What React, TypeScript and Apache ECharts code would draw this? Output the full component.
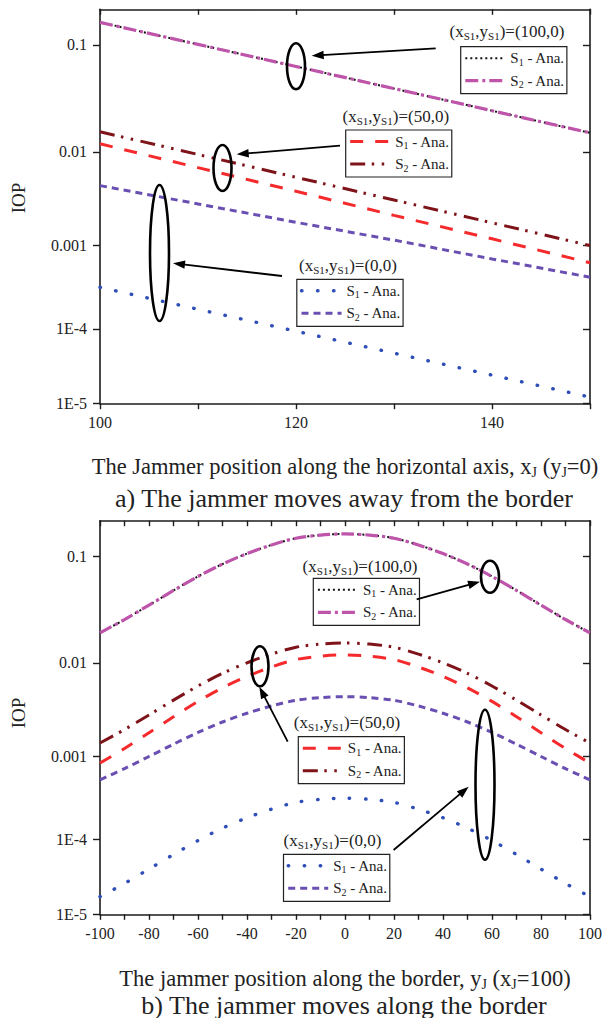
import React, { useEffect, useRef } from "react";
import * as echarts from "echarts";

// ---------------- data ----------------
// a) jammer moves away from the border: x_J (y_J = 0)
const X_TOP = [100, 110, 120, 130, 140, 150];
const TOP_S1_100 = [0.1556, 0.1008, 0.0644, 0.0406, 0.0252, 0.01545];
const TOP_S2_100 = [0.1556, 0.1008, 0.0644, 0.0406, 0.0252, 0.01545];
const TOP_S1_50 = [0.01205, 0.006925, 0.003937, 0.002166, 0.001192, 0.000635];
const TOP_S2_50 = [0.0158, 0.00942, 0.005513, 0.003176, 0.001798, 0.001];
const TOP_S1_0 = [0.0003254, 0.0001757, 0.00009316, 0.00004845, 0.00002472, 0.00001236];
const TOP_S2_0 = [0.004511, 0.002882, 0.001821, 0.001152, 0.000703, 0.000429];

// b) jammer moves along the border: y_J (x_J = 100)
const X_BOTTOM = [-100, -90, -80, -70, -60, -50, -40, -30, -20, -10, 0, 10, 20, 30, 40, 50, 60, 70, 80, 90, 100];
const BOT_S1_100 = [0.0198, 0.02655, 0.03626, 0.04943, 0.06613, 0.08524, 0.1052, 0.1248, 0.1426, 0.1515, 0.1551, 0.1515, 0.1426, 0.1248, 0.1052, 0.08524, 0.06613, 0.04943, 0.03626, 0.02655, 0.0198];
const BOT_S2_100 = [0.0198, 0.02655, 0.03626, 0.04943, 0.06613, 0.08524, 0.1052, 0.1248, 0.1426, 0.1515, 0.1551, 0.1515, 0.1426, 0.1248, 0.1052, 0.08524, 0.06613, 0.04943, 0.03626, 0.02655, 0.0198];
const BOT_S1_50 = [0.000841, 0.001231, 0.001845, 0.002758, 0.004019, 0.005576, 0.00731, 0.00911, 0.01082, 0.01169, 0.01205, 0.01169, 0.01082, 0.00911, 0.00731, 0.005576, 0.004019, 0.002758, 0.001845, 0.001231, 0.000841];
const BOT_S2_50 = [0.001418, 0.002, 0.002883, 0.004147, 0.00583, 0.00786, 0.01004, 0.01227, 0.01435, 0.0154, 0.01582, 0.0154, 0.01435, 0.01227, 0.01004, 0.00786, 0.00583, 0.004147, 0.002883, 0.002, 0.001418];
const BOT_S1_0 = [0.00001756, 0.00002661, 0.0000414, 0.00006427, 0.00009716, 0.0001393, 0.0001875, 0.0002389, 0.0002889, 0.0003148, 0.0003254, 0.0003148, 0.0002889, 0.0002389, 0.0001875, 0.0001393, 0.00009716, 0.00006427, 0.0000414, 0.00002661, 0.00001756];
const BOT_S2_0 = [0.000537, 0.000726, 0.001, 0.001376, 0.00186, 0.002419, 0.003008, 0.003593, 0.004132, 0.004402, 0.004511, 0.004402, 0.004132, 0.003593, 0.003008, 0.002419, 0.00186, 0.001376, 0.001, 0.000726, 0.000537];

// y axis ticks
const Y_TICKS = [0.00001, 0.0001, 0.001, 0.01, 0.1];
const Y_TICK_LABELS = ["1E-5", "1E-4", "0.001", "0.01", "0.1"];
const Y_MIN = 0.00001;
const Y_MAX = 0.2;

// ---------------- scale of the reference's IOP axis ----------------
const SCALE_C = 5.5;
const T = (v: number) => -Math.log(SCALE_C - Math.log10(v));

const FONT = "'Liberation Serif', 'Times New Roman', serif";
const AX = "#1c1c1c";

const COL = {
  black: "#111111",
  magenta: "#BE55AA",
  red: "#F42A2C",
  darkred: "#7E1419",
  purple: "#6A4FB2",
  blue: "#2F4EB8",
};

const STYLES: Record<string, any> = {
  s1_100: { color: COL.black, width: 2, type: [2, 3] },
  s2_100: { color: COL.magenta, width: 3.2, type: [13, 4, 3, 4] },
  s1_50: { color: COL.red, width: 3, type: [13, 12] },
  s2_50: { color: COL.darkred, width: 3, type: [15, 6.5, 2.5, 7.5, 2.5, 7.5] },
  s1_0: { color: COL.blue, width: 3.4, type: [0.5, 15.5], cap: "round" },
  s2_0: { color: COL.purple, width: 3, type: [7, 5] },
};

function fmtY(val: number) {
  let best = 0;
  let bd = Infinity;
  Y_TICKS.forEach((t, i) => {
    const d = Math.abs(T(t) - val);
    if (d < bd) {
      bd = d;
      best = i;
    }
  });
  return Y_TICK_LABELS[best];
}

function xAxis(gi: number, position: "bottom" | "top", min: number, max: number) {
  const bottom = position === "bottom";
  return {
    type: "value",
    gridIndex: gi,
    position,
    min,
    max,
    interval: 10,
    axisLine: { show: true, onZero: false, lineStyle: { color: AX, width: 1.6 } },
    axisTick: { show: true, inside: !bottom, length: 5.5, lineStyle: { color: AX, width: 1.4 } },
    axisLabel: {
      show: bottom,
      margin: 11,
      fontFamily: FONT,
      fontSize: 16,
      color: "#222",
      formatter: (v: number) => (v % 20 === 0 ? String(v) : ""),
    },
    splitLine: { show: false },
  };
}

function yAxis(gi: number, position: "left" | "right") {
  const left = position === "left";
  const vals = Y_TICKS.map(T);
  return {
    type: "value",
    gridIndex: gi,
    position,
    min: T(Y_MIN),
    max: T(Y_MAX),
    axisLine: { show: true, onZero: false, lineStyle: { color: AX, width: 1.6 } },
    axisTick: { show: true, inside: !left, length: 7, customValues: vals, lineStyle: { color: AX, width: 1.4 } },
    axisLabel: {
      show: left,
      customValues: vals,
      margin: 13,
      fontFamily: FONT,
      fontSize: 16,
      color: "#222",
      formatter: fmtY,
    },
    splitLine: { show: false },
  };
}

function line(name: string, xs: number[], ys: number[], gi: number, styleKey: string) {
  const st = STYLES[styleKey];
  return {
    type: "line",
    name,
    xAxisIndex: gi * 2,
    yAxisIndex: gi * 2,
    data: xs.map((x, i) => [x, T(ys[i])]),
    showSymbol: false,
    symbol: "none",
    smooth: gi === 1 ? 0.3 : false,
    silent: true,
    itemStyle: { color: st.color },
    lineStyle: { ...st },
  };
}

const SUB_RICH_LEG = {
  n: { fontFamily: FONT, fontSize: 15, lineHeight: 18, color: "#222" },
  s: { fontFamily: FONT, fontSize: 10, lineHeight: 8, verticalAlign: "bottom", color: "#222" },
};

function legend(left: number, top: number, names: string[]) {
  return {
    show: true,
    orient: "vertical",
    left,
    top,
    data: names,
    selectedMode: false,
    itemWidth: 40,
    itemHeight: 14,
    itemGap: 6,
    padding: [4, 2, 4, 3],
    borderColor: "#222",
    borderWidth: 1.2,
    borderRadius: 0,
    backgroundColor: "#ffffff",
    itemStyle: { opacity: 0, borderWidth: 0 },
    lineStyle: { width: "inherit" },
    formatter: (name: string) => (name.endsWith("_1") ? "{n|S}{s|1}{n| - Ana.}" : "{n|S}{s|2}{n| - Ana.}"),
    textStyle: { fontFamily: FONT, fontSize: 15, color: "#222", rich: SUB_RICH_LEG },
  };
}

function label(cx: number, cy: number, src: string) {
  return {
    type: "text",
    x: cx,
    y: cy,
    z: 100,
    style: {
      text: `{n|(x}{s|S1}{n|,y}{s|S1}{n|)=(${src})}`,
      align: "center",
      verticalAlign: "middle",
      fill: "#222",
      rich: {
        n: { fontFamily: FONT, fontSize: 17, lineHeight: 20, fill: "#222" },
        s: { fontFamily: FONT, fontSize: 11, lineHeight: 10, verticalAlign: "bottom", fill: "#222" },
      },
    },
  };
}

function ellipse(cx: number, cy: number, rx: number, ry: number) {
  return {
    type: "ellipse",
    z: 100,
    shape: { cx, cy, rx, ry },
    style: { fill: "none", stroke: "#000", lineWidth: 2.6 },
  };
}

function arrow(x1: number, y1: number, x2: number, y2: number) {
  const dx = x2 - x1;
  const dy = y2 - y1;
  const len = Math.sqrt(dx * dx + dy * dy);
  const ux = dx / len;
  const uy = dy / len;
  const L = 12;
  const W = 4.2;
  const bx = x2 - ux * L;
  const by = y2 - uy * L;
  return {
    type: "group",
    z: 100,
    children: [
      {
        type: "line",
        z: 100,
        shape: { x1, y1, x2: bx + ux * 2, y2: by + uy * 2 },
        style: { stroke: "#000", lineWidth: 1.8 },
      },
      {
        type: "polygon",
        z: 100,
        shape: {
          points: [
            [x2, y2],
            [bx - uy * W, by + ux * W],
            [bx + uy * W, by - ux * W],
          ],
        },
        style: { fill: "#000" },
      },
    ],
  };
}

function richTitle(cx: number, cy: number, text: string, size: number, subSize: number) {
  return {
    type: "text",
    x: cx,
    y: cy,
    z: 100,
    style: {
      text,
      align: "center",
      verticalAlign: "middle",
      fill: "#222",
      rich: {
        n: { fontFamily: FONT, fontSize: size, lineHeight: size + 4, fill: "#222" },
        s: { fontFamily: FONT, fontSize: subSize, lineHeight: 12, verticalAlign: "bottom", fill: "#222" },
      },
    },
  };
}

function plainText(cx: number, cy: number, text: string, size: number, rotation = 0) {
  return {
    type: "text",
    x: cx,
    y: cy,
    rotation,
    z: 100,
    style: {
      text,
      align: "center",
      verticalAlign: "middle",
      fill: "#222",
      fontFamily: FONT,
      fontSize: size,
    },
  };
}

export default function App() {
  const ref = useRef<HTMLDivElement>(null);
  useEffect(() => {
    if (!ref.current) return;
    const chart = echarts.init(ref.current, undefined, { renderer: "svg" });
    const option = {
      animation: false,
      backgroundColor: "#ffffff",
      grid: [
        { left: 100, top: 9.3, width: 490, height: 394.4, show: false },
        { left: 100, top: 520.7, width: 490, height: 393.6, show: false },
      ],
      xAxis: [
        xAxis(0, "bottom", 100, 150),
        xAxis(0, "top", 100, 150),
        xAxis(1, "bottom", -100, 100),
        xAxis(1, "top", -100, 100),
      ],
      yAxis: [yAxis(0, "left"), yAxis(0, "right"), yAxis(1, "left"), yAxis(1, "right")],
      legend: [
        legend(460.7, 46.7, ["a100_1", "a100_2"]),
        legend(345.7, 130, ["a50_1", "a50_2"]),
        legend(296.8, 279.3, ["a0_1", "a0_2"]),
        legend(313.3, 578.3, ["b100_1", "b100_2"]),
        legend(298.3, 736.7, ["b50_1", "b50_2"]),
        legend(283.5, 854.3, ["b0_1", "b0_2"]),
      ],
      series: [
        line("a0_2", X_TOP, TOP_S2_0, 0, "s2_0"),
        line("a0_1", X_TOP, TOP_S1_0, 0, "s1_0"),
        line("a50_1", X_TOP, TOP_S1_50, 0, "s1_50"),
        line("a50_2", X_TOP, TOP_S2_50, 0, "s2_50"),
        line("a100_1", X_TOP, TOP_S1_100, 0, "s1_100"),
        line("a100_2", X_TOP, TOP_S2_100, 0, "s2_100"),
        line("b0_2", X_BOTTOM, BOT_S2_0, 1, "s2_0"),
        line("b0_1", X_BOTTOM, BOT_S1_0, 1, "s1_0"),
        line("b50_1", X_BOTTOM, BOT_S1_50, 1, "s1_50"),
        line("b50_2", X_BOTTOM, BOT_S2_50, 1, "s2_50"),
        line("b100_1", X_BOTTOM, BOT_S1_100, 1, "s1_100"),
        line("b100_2", X_BOTTOM, BOT_S2_100, 1, "s2_100"),
      ],
      graphic: [
        plainText(18, 198, "IOP", 19, Math.PI / 2),
        plainText(18, 713, "IOP", 19, Math.PI / 2),
        richTitle(345, 466.7, "{n|The Jammer position along the horizontal axis, x}{s|J}{n| (y}{s|J}{n|=0)}", 22.5, 14),
        plainText(344, 498, "a) The jammer moves away from the border", 26),
        richTitle(345, 978, "{n|The jammer position along the border, y}{s|J}{n| (x}{s|J}{n|=100)}", 22.5, 14),
        plainText(344, 1005, "b) The jammer moves along the border", 26),
        label(507, 31.7, "100,0"),
        label(395.8, 116.7, "50,0"),
        label(348, 265, "0,0"),
        label(360, 566.7, "100,0"),
        label(347, 722.5, "50,0"),
        label(332.5, 840, "0,0"),
        ellipse(296, 66.3, 9, 23),
        ellipse(222.5, 168, 9, 23),
        ellipse(159.5, 253, 9.5, 68),
        ellipse(490, 576.7, 9, 16),
        ellipse(260, 666.3, 8.5, 20),
        ellipse(485, 784.7, 9.5, 75),
        arrow(435.7, 48.3, 311.7, 55.7),
        arrow(340, 145.7, 236.7, 154.3),
        arrow(282, 276, 173, 263.3),
        arrow(416.7, 599.3, 480, 581.7),
        arrow(287.7, 741.7, 259.3, 686.7),
        arrow(393.6, 850, 468.7, 786.7),
      ],
    };
    chart.setOption(option as any);
    return () => chart.dispose();
  }, []);
  return (
    <div
      ref={ref}
      style={{ position: "absolute", left: 0, top: 0, width: 610, height: 1018, background: "#fff" }}
    />
  );
}
